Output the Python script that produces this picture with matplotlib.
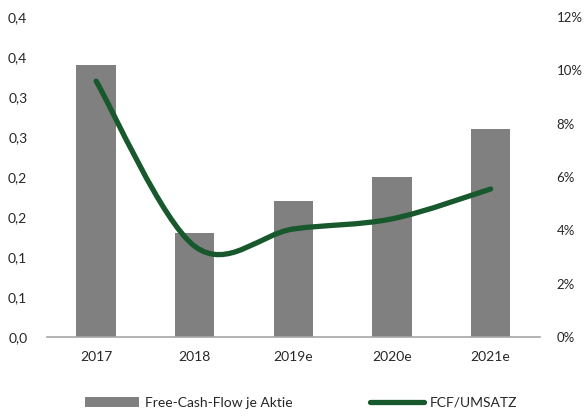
import matplotlib.pyplot as plt
import numpy as np
from matplotlib.path import Path
from matplotlib.patches import PathPatch
from matplotlib.lines import Line2D
from matplotlib.patches import Patch

plt.rcParams['font.family'] = ['Lato', 'DejaVu Sans']

years = ['2017', '2018', '2019e', '2020e', '2021e']
fcf_per_share = [0.34, 0.13, 0.17, 0.20, 0.26]
fcf_margin = [0.096, 0.034, 0.0405, 0.0443, 0.0555]

left_ticks = [0, 0.05, 0.10, 0.15, 0.20, 0.25, 0.30, 0.35, 0.40]
left_labels = ['0,0', '0,1', '0,1', '0,2', '0,2', '0,3', '0,3', '0,4', '0,4']
right_ticks = [0, 0.02, 0.04, 0.06, 0.08, 0.10, 0.12]
right_labels = ['0%', '2%', '4%', '6%', '8%', '10%', '12%']

bar_color = '#808080'
line_color = '#17592d'
text_color = '#262626'

fig = plt.figure(figsize=(5.85, 4.19), dpi=100)
ax = fig.add_axes([0.080, 0.196, 0.843, 0.763])
ax2 = ax.twinx()

x = np.arange(len(years))
ax.bar(x, fcf_per_share, width=0.4, color=bar_color)
ax.set_xlim(-0.5, len(years) - 0.5)
ax.set_ylim(0, 0.4)
ax.set_yticks(left_ticks)
ax.set_yticklabels(left_labels)
ax.set_xticks(x)
ax.set_xticklabels(years)

ax2.set_ylim(0, 0.12)
ax2.set_yticks(right_ticks)
ax2.set_yticklabels(right_labels)

# smoothed line like Excel (bezier through the points)
pts = np.column_stack([x, fcf_margin])
verts = [tuple(pts[0])]
codes = [Path.MOVETO]
n = len(pts)
for i in range(n - 1):
    p0 = pts[max(i - 1, 0)]
    p1 = pts[i]
    p2 = pts[i + 1]
    p3 = pts[min(i + 2, n - 1)]
    c1 = p1 + (p2 - p0) / 6
    c2 = p2 - (p3 - p1) / 6
    verts += [tuple(c1), tuple(c2), tuple(p2)]
    codes += [Path.CURVE4] * 3
ax2.add_patch(PathPatch(Path(verts, codes), facecolor='none', edgecolor=line_color,
                        lw=3.8, capstyle='round', joinstyle='round'))

for a in (ax, ax2):
    for s in ('top', 'left', 'right', 'bottom'):
        a.spines[s].set_visible(False)
    a.tick_params(length=0, labelsize=10, colors=text_color)
ax.spines['bottom'].set_visible(True)
ax.spines['bottom'].set_color('#a6a6a6')
ax.spines['bottom'].set_linewidth(1.2)
ax.tick_params(axis='y', pad=14)
ax.tick_params(axis='x', pad=10)
ax2.tick_params(axis='y', pad=12, labelsize=9.5)

handles = [Patch(facecolor=bar_color, edgecolor='none'),
           Line2D([0], [0], color=line_color, lw=3.8, solid_capstyle='round')]
fig.legend(handles, ['Free-Cash-Flow je Aktie', 'FCF/UMSATZ'], loc='lower center',
           bbox_to_anchor=(0.515, -0.005), ncol=2, frameon=False, fontsize=10,
           handlelength=3.9, handleheight=0.7, columnspacing=5.6, handletextpad=0.4,
           labelcolor=text_color)

fig.savefig('out.png', dpi=100)
